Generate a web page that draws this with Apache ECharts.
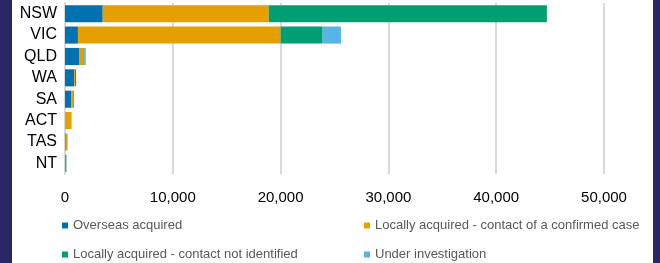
<!DOCTYPE html>
<html>
<head>
<meta charset="utf-8">
<script src="https://cdn.jsdelivr.net/npm/echarts@6/dist/echarts.min.js"></script>
<style>
  html, body { margin: 0; padding: 0; width: 660px; height: 263px; background: #2a2766; overflow: hidden; }
  #chart { position: absolute; left: 12px; top: 0; width: 641px; height: 263px; background: #ffffff; }
</style>
</head>
<body>
<div id="chart"></div>
<script>
const categories = ['NSW', 'VIC', 'QLD', 'WA', 'SA', 'ACT', 'TAS', 'NT'];
const seriesNames = [
  'Overseas acquired',
  'Locally acquired - contact of a confirmed case',
  'Locally acquired - contact not identified',
  'Under investigation'
];
const overseas      = [3500, 1200, 1300, 850, 600, 30, 60, 20];
const localContact  = [15400, 18800, 460, 80, 180, 550, 120, 10];
const localUnknown  = [25800, 3900, 60, 100, 60, 0, 40, 100];
const investigation = [0, 1700, 100, 0, 0, 40, 0, 0];
const xTicks = [0, 10000, 20000, 30000, 40000, 50000];

const colors = ['#0072B2', '#E69F00', '#009E73', '#56B4E9'];
const values = [overseas, localContact, localUnknown, investigation];

const chart = echarts.init(document.getElementById('chart'));
const legendBase = {
  itemWidth: 6, itemHeight: 6, icon: 'rect', itemGap: 5, padding: 0,
  textStyle: { fontFamily: 'Liberation Sans, Arial', fontSize: 13, color: '#595959', padding: [0, 0, 0, 0] }
};
chart.setOption({
  animation: false,
  textStyle: { fontFamily: 'Liberation Sans, Arial' },
  grid: { left: 53, right: 49, top: 3, height: 171 },
  xAxis: {
    type: 'value', min: xTicks[0], max: xTicks[xTicks.length - 1], interval: 10000,
    axisLine: { show: false }, axisTick: { show: false },
    splitLine: { lineStyle: { color: '#d9d9d9', width: 2 } },
    axisLabel: {
      color: '#000', fontSize: 15, margin: 16,
      formatter: v => v.toLocaleString('en-US')
    }
  },
  yAxis: {
    type: 'category', data: categories, inverse: true,
    axisLine: { show: true, lineStyle: { color: '#d9d9d9', width: 2 } },
    axisTick: { show: false },
    axisLabel: { color: '#000', fontSize: 16, margin: 8 }
  },
  legend: [
    Object.assign({}, legendBase, { data: [seriesNames[0]], left: 50, top: 219 }),
    Object.assign({}, legendBase, { data: [seriesNames[1]], left: 352, top: 219 }),
    Object.assign({}, legendBase, { data: [seriesNames[2]], left: 50, top: 248 }),
    Object.assign({}, legendBase, { data: [seriesNames[3]], left: 352, top: 248 })
  ],
  series: seriesNames.map((name, i) => ({
    name, type: 'bar', stack: 'total', data: values[i],
    barWidth: '80%', itemStyle: { color: colors[i] }
  }))
});
</script>
</body>
</html>
